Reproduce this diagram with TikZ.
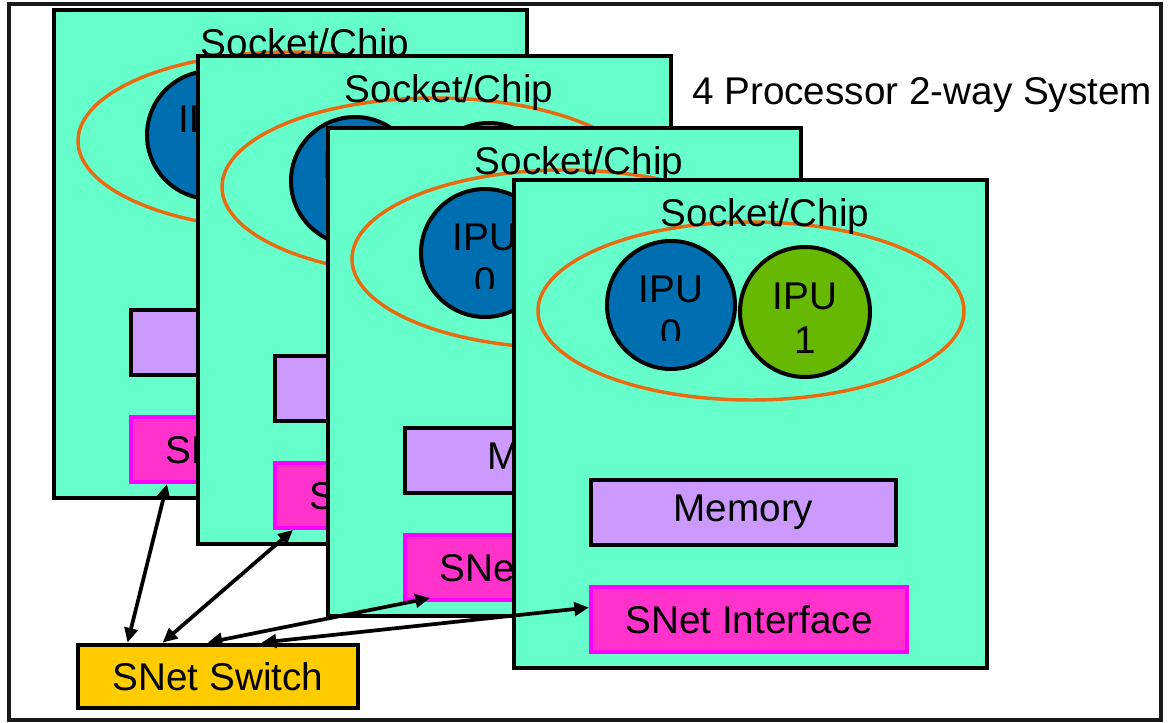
\documentclass[tikz,border=0pt]{standalone}
\usepackage{fontspec}
\setmainfont{Liberation Sans}
\usetikzlibrary{arrows.meta,shapes.geometric,calc}
\definecolor{chipgreen}{HTML}{66FFCC}
\definecolor{ipublue}{HTML}{006FB2}
\definecolor{ipugreen}{HTML}{66B800}
\definecolor{ringorange}{HTML}{EA6A10}
\definecolor{memlilac}{HTML}{CC99FF}
\definecolor{snetpink}{HTML}{FF33CC}
\definecolor{snetedge}{HTML}{FF00FF}
\definecolor{switchgold}{HTML}{FFCC00}

\begin{document}
\begin{tikzpicture}[x=0.75pt,y=-0.75pt,>={Triangle[length=11pt,width=10pt]},font=\fontsize{29}{34}\selectfont,
  sock node/.style={rectangle,draw=black,fill=chipgreen,line width=3.2pt,minimum width=354.75pt,minimum height=366pt,inner sep=0pt},
  ring node/.style={ellipse,draw=ringorange,line width=2.6pt,minimum width=319.5pt,minimum height=133.5pt,inner sep=0pt},
  ipu node/.style={circle,draw=black,line width=3pt,inner sep=0pt},
  mem node/.style={rectangle,draw=black,fill=memlilac,line width=3pt,minimum width=228.75pt,minimum height=48.75pt},
  snet node/.style={rectangle,draw=snetedge,fill=snetpink,line width=3pt,minimum width=237pt,minimum height=48.75pt},
  switch node/.style={rectangle,draw=black,fill=switchgold,line width=3.6pt,minimum width=210pt,minimum height=47.25pt},
  txt node/.style={inner sep=0pt,anchor=base}]

  \fill[white] (0,0) rectangle (1168,723);
  \useasboundingbox (0,0) rectangle (1168,723);
  \draw[line width=3pt,draw=black!90] (9,4) rectangle (1161,720);

  \node[anchor=base west,inner sep=0pt] (caption) at (692,105) {4 Processor 2-way System};

  % four sockets, back to front
  \foreach \n/\dx/\dy in {1/-460/-170,2/-316/-124,3/-186/-52,4/0/0}{
    \begin{scope}[shift={(\dx,\dy)}]
      \node[sock node] (sock\n) at (750.5,424) {};
      \node[ring node] (ring\n) at (751,311) {};
      \node[txt node] (title\n) at (765,227) {Socket/Chip};
      \node[ipu node,fill=ipublue,minimum size=96pt] (ipuA\n) at (671,305) {};
      \node[ipu node,fill=ipugreen,minimum size=97.5pt] (ipuB\n) at (805,312) {};
      \node[txt node] (ipuAtop\n) at (671,303) {IPU};
      \begin{scope}
        \clip (600,240) rectangle (740,341);
        \node[txt node] (ipuAnum\n) at (671,347) {0};
      \end{scope}
      \node[txt node] (ipuBtop\n) at (805,310) {IPU};
      \node[txt node] (ipuBnum\n) at (805,354) {1};
      \node[mem node] (mem\n) at (743.5,512.5) {Memory};
      \node[snet node] (snet\n) at (749,619.5) {SNet Interface};
    \end{scope}
  }

  \node[switch node] (sw) at (218,676.5) {SNet Switch};

  \path[<->,line width=2.8pt]
    ($(sw.north west)+(52,0)$) edge ($(snet1.south west)+(38,0)$)
    ($(sw.north west)+(87,0)$) edge ($(snet2.south west)+(20,0)$)
    ($(sw.north west)+(132,0)$) edge ($(snet3.south west)+(27,-4)$)
    ($(sw.north west)+(186,0)$) edge ($(snet4.west)+(0,-12)$);
\end{tikzpicture}
\end{document}
